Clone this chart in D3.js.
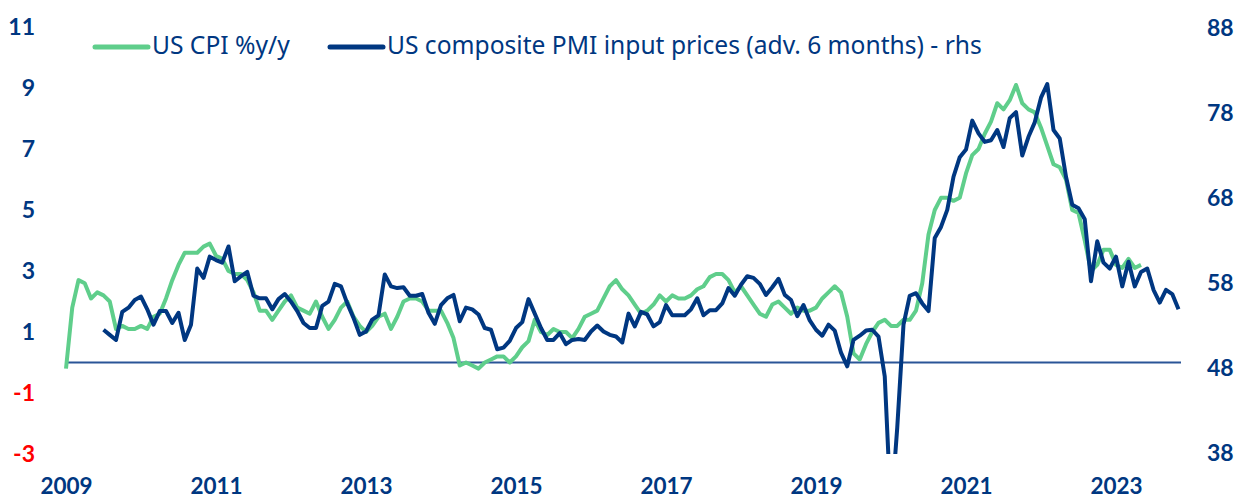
<!DOCTYPE html>
<html>
<head>
<meta charset="utf-8">
<script src="https://cdn.jsdelivr.net/npm/d3@7"></script>
<style>
  body { margin: 0; background: #fff; }
  text { font-family: Lato, "Noto Sans", sans-serif; }
  text.legend { font-family: "Noto Sans", sans-serif; }
</style>
</head>
<body>
<svg id="chart" width="1242" height="499"></svg>
<script>
// US CPI %y/y, monthly, first point sits on the "2009" label
const cpi = [
  -0.2, 1.8, 2.7,
  2.6, 2.1, 2.3, 2.2, 2.0, 1.1, 1.2, 1.1, 1.1, 1.2, 1.1, 1.5,
  1.6, 2.1, 2.7, 3.2, 3.6, 3.6, 3.6, 3.8, 3.9, 3.5, 3.4, 3.0,
  2.9, 2.9, 2.7, 2.3, 1.7, 1.7, 1.4, 1.7, 2.0, 2.2, 1.8, 1.7,
  1.6, 2.0, 1.5, 1.1, 1.4, 1.8, 2.0, 1.5, 1.2, 1.0, 1.2, 1.5,
  1.6, 1.1, 1.5, 2.0, 2.1, 2.1, 2.0, 1.7, 1.7, 1.7, 1.3, 0.8,
  -0.1, 0.0, -0.1, -0.2, 0.0, 0.1, 0.2, 0.2, 0.0, 0.2, 0.5, 0.7,
  1.4, 1.0, 0.9, 1.1, 1.0, 1.0, 0.8, 1.1, 1.5, 1.6, 1.7, 2.1,
  2.5, 2.7, 2.4, 2.2, 1.9, 1.6, 1.7, 1.9, 2.2, 2.0, 2.2, 2.1,
  2.1, 2.2, 2.4, 2.5, 2.8, 2.9, 2.9, 2.7, 2.3, 2.5, 2.2, 1.9,
  1.6, 1.5, 1.9, 2.0, 1.8, 1.6, 1.8, 1.7, 1.7, 1.8, 2.1, 2.3,
  2.5, 2.3, 1.5, 0.3, 0.1, 0.6, 1.0, 1.3, 1.4, 1.2, 1.2, 1.4,
  1.4, 1.7, 2.6, 4.2, 5.0, 5.4, 5.4, 5.3, 5.4, 6.2, 6.8, 7.0,
  7.5, 7.9, 8.5, 8.3, 8.6, 9.1, 8.5, 8.3, 8.2, 7.7, 7.1, 6.5,
  6.4, 6.0, 5.0, 4.9, 4.0, 3.0, 3.2, 3.7, 3.7, 3.2, 3.1, 3.4,
  3.1, 3.2
];

// US composite PMI input prices (adv. 6 months), rhs, starts 6 months in
const pmiStart = 6;
const pmi = [
  52.5, 51.9, 51.3, 54.6, 55.1, 56.0, 56.4, 54.9, 53.1, 54.7,
  54.7, 53.3, 54.5, 51.3, 53.1, 59.7, 58.6, 61.1, 60.7, 60.4,
  62.3, 58.2, 58.8, 59.3, 56.5, 56.2, 56.2, 54.9, 56.1, 56.7,
  55.8, 54.7, 53.3, 52.7, 52.7, 55.3, 55.8, 57.9, 57.6, 55.6,
  53.9, 51.9, 52.3, 53.7, 54.2, 59.0, 57.6, 57.4, 57.5, 56.5,
  56.5, 56.7, 54.5, 53.2, 55.4, 56.2, 56.6, 53.5, 55.1, 54.9,
  54.3, 52.7, 52.5, 50.2, 50.4, 51.2, 52.7, 53.4, 56.1, 54.4,
  52.7, 51.3, 51.3, 52.1, 50.8, 51.3, 51.4, 51.3, 52.3, 53.0,
  52.3, 51.9, 51.7, 51.0, 54.4, 52.9, 54.6, 54.3, 52.9, 53.4,
  55.4, 54.2, 54.2, 54.2, 54.9, 56.2, 54.2, 54.8, 54.8, 55.6,
  57.4, 56.5, 57.8, 58.8, 58.6, 57.9, 56.6, 57.5, 58.5, 56.6,
  56.0, 54.1, 55.4, 53.6, 52.5, 51.8, 53.1, 52.4, 49.8, 48.2,
  51.3, 51.8, 52.4, 52.5, 51.7, 47.0, 31.0, 41.0, 53.1, 56.5,
  56.8, 55.6, 54.7, 63.3, 64.6, 66.6, 70.5, 72.8, 73.7, 77.1,
  75.6, 74.6, 74.8, 76.0, 74.0, 77.4, 78.1, 73.0, 75.2, 76.9,
  79.8, 81.4, 76.0, 75.0, 70.5, 67.2, 66.8, 65.5, 58.2, 62.9,
  60.4, 59.7, 61.1, 57.6, 60.5, 57.6, 59.3, 59.7, 57.2, 55.7,
  57.2, 56.7, 54.9
];

const yearLabels = [2009, 2011, 2013, 2015, 2017, 2019, 2021, 2023];
const leftTicks = [-3, -1, 1, 3, 5, 7, 9, 11];
const rightTicks = [38, 48, 58, 68, 78, 88];
const seriesNames = ["US CPI %y/y", "US composite PMI input prices (adv. 6 months) - rhs"];

const GREEN = "#5fce8b";
const BLUE = "#003781";
const RED = "#ff0000";

const svg = d3.select("#chart");

const x = d3.scaleLinear().domain([0, 178.4]).range([66, 1181]);
const yL = d3.scaleLinear().domain([-3, 11]).range([454, 27]);
const yR = d3.scaleLinear().domain([38, 88]).range([453, 28]);

svg.append("defs").append("clipPath").attr("id", "plot")
  .append("rect").attr("x", 0).attr("y", yL(11)).attr("width", 1242).attr("height", yL(-3) - yL(11));

// zero line
svg.append("line")
  .attr("x1", x.range()[0]).attr("x2", x.range()[1])
  .attr("y1", yL(0)).attr("y2", yL(0))
  .attr("stroke", "#2a5597").attr("stroke-width", 2);

const cpiLine = d3.line().x((d, i) => x(i)).y(d => yL(d));
const pmiLine = d3.line().x((d, i) => x(i + pmiStart)).y(d => yR(d));

const g = svg.append("g").attr("clip-path", "url(#plot)");
g.append("path").datum(cpi).attr("d", cpiLine)
  .attr("fill", "none").attr("stroke", GREEN).attr("stroke-width", 4).attr("stroke-linejoin", "round");
g.append("path").datum(pmi).attr("d", pmiLine)
  .attr("fill", "none").attr("stroke", BLUE).attr("stroke-width", 4).attr("stroke-linejoin", "round");

// axes
const styleAxis = (sel) => {
  sel.select(".domain").remove();
  sel.selectAll("text").attr("font-size", 23).attr("font-weight", 700).attr("fill", BLUE);
};

svg.append("g").attr("transform", "translate(35,0)")
  .call(d3.axisLeft(yL).tickValues(leftTicks).tickSize(0).tickPadding(0).tickFormat(d => String(d)))
  .call(styleAxis)
  .selectAll("text").attr("fill", d => d < 0 ? RED : BLUE);

svg.append("g").attr("transform", "translate(1207,0)")
  .call(d3.axisRight(yR).tickValues(rightTicks).tickSize(0).tickPadding(0))
  .call(styleAxis);

svg.append("g").attr("transform", "translate(0,494)")
  .call(d3.axisBottom(x).tickValues(yearLabels.map((y, i) => i * 24)).tickSize(0).tickPadding(0)
    .tickFormat((d, i) => yearLabels[i]))
  .call(styleAxis)
  .selectAll("text").attr("dy", 0).attr("font-size", 22.5);

// legend
const legend = [
  { name: seriesNames[0], color: GREEN, x: 95 },
  { name: seriesNames[1], color: BLUE, x: 330 }
];
legend.forEach(l => {
  svg.append("line").attr("x1", l.x).attr("x2", l.x + 53).attr("y1", 47).attr("y2", 47)
    .attr("stroke", l.color).attr("stroke-width", 5).attr("stroke-linecap", "round");
  svg.append("text").attr("class", "legend").attr("x", l.x + 57).attr("y", 54)
    .attr("font-size", 24.6).attr("fill", BLUE).text(l.name);
});
</script>
</body>
</html>
